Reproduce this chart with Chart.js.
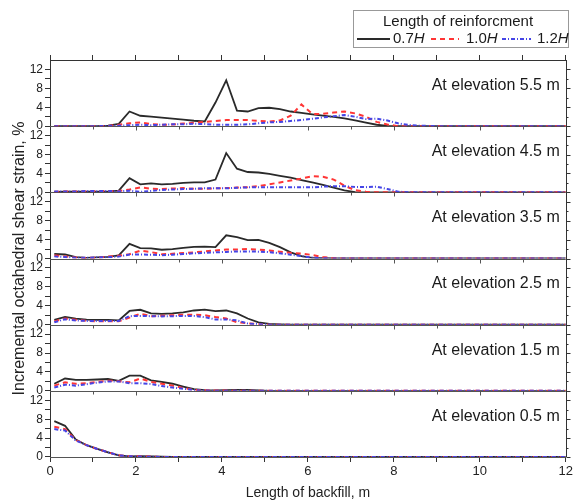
<!DOCTYPE html>
<html>
<head>
<meta charset="utf-8">
<script src="https://cdn.jsdelivr.net/npm/chart.js@4.4.1/dist/chart.umd.min.js"></script>
<style>
  html, body { margin: 0; padding: 0; background: #fff; }
</style>
</head>
<body>
<canvas id="strainChart" width="575" height="500"></canvas>
<script>
// distance along the backfill, m
var xs = [0.1, 0.35, 0.6, 0.85, 1.1, 1.35, 1.6, 1.85, 2.1, 2.35,
          2.6, 2.85, 3.1, 3.35, 3.6, 3.85, 4.1, 4.35, 4.6, 4.85,
          5.1, 5.35, 5.6, 5.85, 6.1, 6.35, 6.6, 6.85, 7.1, 7.35,
          7.6, 7.85, 8.1, 8.35, 8.6, 9, 10, 11, 12];

var elevations = ['5.5', '4.5', '3.5', '2.5', '1.5', '0.5'];
var lengthNames = ['0.7', '1.0', '1.2'];
var yTicks = [0, 4, 8, 12];

// incremental octahedral shear strain (%), one array per elevation and reinforcement length
var e55_07 = [0, 0, 0, 0, 0, 0.1, 0.5, 3.1, 2.2, 2.0, 1.8, 1.6, 1.4, 1.15, 1.0, 5.0, 9.7, 3.3, 3.1, 3.8,
              3.9, 3.6, 3.1, 2.8, 2.5, 2.25, 1.95, 1.65, 1.25, 0.75, 0.3, 0.05, 0, 0, 0, 0, 0, 0, 0];
var e55_10 = [0, 0, 0, 0, 0, 0.05, 0.3, 0.6, 0.8, 0.45, 0.3, 0.35, 0.55, 0.7, 0.9, 1.1, 1.3, 1.3, 1.3, 1.1,
              1.0, 1.2, 2.2, 4.6, 2.6, 2.6, 2.9, 3.1, 2.7, 2.0, 0.9, 0.35, 0, 0, 0, 0, 0, 0, 0];
var e55_12 = [0, 0, 0, 0, 0, 0.05, 0.1, 0.2, 0.3, 0.2, 0.3, 0.4, 0.4, 0.5, 0.45, 0.3, 0.3, 0.3, 0.4, 0.6,
              0.8, 0.9, 1.1, 1.3, 1.55, 1.85, 2.1, 2.35, 2.0, 1.5, 1.6, 1.2, 0.6, 0.25, 0.1, 0, 0, 0, 0];

var e45_07 = [0.1, 0.15, 0.15, 0.15, 0.15, 0.2, 0.35, 3.0, 1.7, 1.9, 1.7, 1.8, 2.0, 2.1, 2.1, 2.7, 8.3, 5.0, 4.3, 4.2,
              3.9, 3.5, 3.1, 2.6, 2.1, 1.6, 1.0, 0.4, 0.05, 0, 0, 0, 0, 0, 0, 0, 0, 0, 0];
var e45_10 = [0.1, 0.2, 0.2, 0.2, 0.25, 0.3, 0.3, 0.6, 1.05, 0.75, 0.7, 0.8, 0.9, 0.75, 0.75, 0.85, 0.9, 1.0, 1.1, 1.3,
              1.7, 2.1, 2.5, 2.9, 3.4, 3.3, 2.7, 1.4, 0.45, 0.15, 0, 0, 0, 0, 0, 0, 0, 0, 0];
var e45_12 = [0.15, 0.2, 0.2, 0.3, 0.25, 0.3, 0.2, 0.35, 0.1, 0.3, 0.5, 0.6, 0.7, 0.75, 0.85, 0.85, 0.85, 0.95, 1.05, 1.1,
              1.1, 1.1, 1.05, 1.05, 1.05, 1.2, 1.3, 1.3, 1.15, 1.1, 1.2, 0.7, 0.15, 0, 0, 0, 0, 0, 0];

var e35_07 = [1.0, 0.85, 0.3, 0.15, 0.25, 0.35, 0.65, 3.1, 2.2, 2.15, 1.85, 2.0, 2.25, 2.45, 2.5, 2.4, 4.9, 4.5, 3.9, 3.95,
              3.3, 2.4, 1.3, 0.5, 0.15, 0.05, 0, 0, 0, 0, 0, 0, 0, 0, 0, 0, 0, 0, 0];
var e35_10 = [0.65, 0.45, 0.2, 0.1, 0.2, 0.4, 0.6, 0.9, 1.65, 1.35, 0.9, 1.0, 1.15, 1.3, 1.5, 1.7, 1.9, 1.9, 2.0, 1.9,
              1.7, 1.45, 1.2, 1.05, 0.75, 0.3, 0.05, 0, 0, 0, 0, 0, 0, 0, 0, 0, 0, 0, 0];
var e35_12 = [0.45, 0.3, 0.15, 0.15, 0.25, 0.3, 0.4, 0.85, 0.85, 0.8, 0.7, 0.8, 0.95, 1.1, 1.2, 1.3, 1.4, 1.5, 1.5, 1.45,
              1.35, 1.1, 0.8, 0.5, 0.2, 0.05, 0, 0, 0, 0, 0, 0, 0, 0, 0, 0, 0, 0, 0];

var e25_07 = [1.0, 1.65, 1.3, 1.05, 1.0, 1.0, 0.9, 2.9, 3.15, 2.4, 2.3, 2.4, 2.6, 3.0, 3.2, 2.85, 3.0, 2.4, 1.3, 0.5,
              0.15, 0.05, 0, 0, 0, 0, 0, 0, 0, 0, 0, 0, 0, 0, 0, 0, 0, 0, 0];
var e25_10 = [0.7, 1.3, 1.05, 0.8, 0.7, 0.7, 0.7, 1.5, 2.3, 1.8, 1.9, 2.0, 2.1, 2.1, 2.0, 1.6, 1.3, 0.5, 0.3, 0.1,
              0, 0, 0, 0, 0, 0, 0, 0, 0, 0, 0, 0, 0, 0, 0, 0, 0, 0, 0];
var e25_12 = [0.5, 1.15, 0.9, 0.8, 0.75, 0.8, 0.8, 1.8, 1.85, 1.8, 1.75, 1.8, 1.85, 1.85, 1.6, 1.1, 1.1, 0.9, 0.25, 0.1,
              0, 0, 0, 0, 0, 0, 0, 0, 0, 0, 0, 0, 0, 0, 0, 0, 0, 0, 0];

var e15_07 = [1.5, 2.6, 2.3, 2.3, 2.4, 2.5, 2.1, 3.2, 3.2, 2.2, 1.9, 1.5, 0.9, 0.35, 0.15, 0.1, 0.15, 0.2, 0.2, 0.1,
              0, 0, 0, 0, 0, 0, 0, 0, 0, 0, 0, 0, 0, 0, 0, 0, 0, 0, 0];
var e15_10 = [1.1, 1.8, 1.5, 1.6, 1.9, 2.15, 2.05, 1.8, 2.6, 1.9, 1.5, 1.1, 0.6, 0.2, 0.1, 0.05, 0.05, 0, 0, 0,
              0, 0, 0, 0, 0, 0, 0, 0, 0, 0, 0, 0, 0, 0, 0, 0, 0, 0, 0];
var e15_12 = [0.7, 1.3, 1.1, 1.4, 1.75, 2.0, 2.0, 1.6, 1.6, 1.45, 1.0, 0.7, 0.45, 0.15, 0.05, 0, 0, 0, 0, 0,
              0, 0, 0, 0, 0, 0, 0, 0, 0, 0, 0, 0, 0, 0, 0, 0, 0, 0, 0];

var e05_07 = [7.6, 6.6, 3.7, 2.5, 1.7, 1.0, 0.35, 0.15, 0.2, 0.15, 0.05, 0, 0, 0, 0, 0, 0, 0, 0, 0,
              0, 0, 0, 0, 0, 0, 0, 0, 0, 0, 0, 0, 0, 0, 0, 0, 0, 0, 0];
var e05_10 = [6.4, 5.9, 3.6, 2.5, 1.7, 1.0, 0.35, 0.15, 0.15, 0.1, 0, 0, 0, 0, 0, 0, 0, 0, 0, 0,
              0, 0, 0, 0, 0, 0, 0, 0, 0, 0, 0, 0, 0, 0, 0, 0, 0, 0, 0];
var e05_12 = [5.9, 5.6, 3.5, 2.5, 1.7, 1.0, 0.35, 0.15, 0.1, 0.05, 0, 0, 0, 0, 0, 0, 0, 0, 0, 0,
              0, 0, 0, 0, 0, 0, 0, 0, 0, 0, 0, 0, 0, 0, 0, 0, 0, 0, 0];

var panels = [
  [e55_07, e55_10, e55_12],
  [e45_07, e45_10, e45_12],
  [e35_07, e35_10, e35_12],
  [e25_07, e25_10, e25_12],
  [e15_07, e15_10, e15_12],
  [e05_07, e05_10, e05_12]
];

// line look for each reinforcement length
var lineStyles = [
  { color: '#2a2a2a', width: 1.8, dash: [], order: 2 },
  { color: '#ff3535', width: 2, dash: [5, 4], order: 1 },
  { color: '#4545e6', width: 2, dash: [4, 2, 1, 2], order: 0 }
];

var FONT = 'Liberation Sans, Arial, sans-serif';
Chart.defaults.font.family = FONT;
Chart.defaults.color = '#222';

var datasets = [];
panels.forEach(function (series, p) {
  series.forEach(function (vals, s) {
    var st = lineStyles[s];
    datasets.push({
      label: lengthNames[s] + 'H, ' + elevations[p] + ' m',
      data: xs.map(function (x, i) { return { x: x, y: vals[i] }; }),
      yAxisID: 'y' + p,
      borderColor: st.color,
      borderWidth: st.width,
      borderDash: st.dash,
      pointRadius: 0,
      tension: 0,
      fill: false,
      order: st.order
    });
  });
});

var scales = {
  x: {
    type: 'linear', position: 'bottom', min: 0, max: 12,
    ticks: {
      stepSize: 1, autoSkip: false, maxRotation: 0, padding: 2,
      font: { size: 13 },
      callback: function (v) { return v % 2 === 0 ? v : ''; }
    },
    grid: { drawOnChartArea: false, tickLength: 5, color: '#333' },
    border: { color: '#333' },
    title: { display: true, text: 'Length of backfill, m', font: { size: 14 }, padding: { top: 4, bottom: -2 } },
    afterFit: function (s) { s.height = 43; }
  },
  x2: {
    type: 'linear', axis: 'x', position: 'top', min: 0, max: 12,
    ticks: { display: false, stepSize: 1 },
    grid: { drawOnChartArea: false, tickLength: 5, color: '#333' },
    border: { color: '#333' },
    afterFit: function (s) { s.height = 60; }
  },
  yTitle: {
    type: 'linear', axis: 'y', position: 'left', weight: 5, min: 0, max: 1,
    ticks: { display: false },
    grid: { display: false },
    border: { display: false },
    title: {
      display: true, text: 'Incremental octahedral shear strain, %',
      font: { size: 16 }, padding: { top: 10, bottom: 0 }
    },
    afterFit: function (s) { s.width = 27; }
  }
};

// stacked panels are laid out bottom-up, so the lowest elevation goes in first
for (var p = elevations.length - 1; p >= 0; p--) {
  scales['y' + p] = {
    type: 'linear', position: 'left', stack: 'panels', stackWeight: 1,
    min: 0, max: 14,
    afterBuildTicks: function (s) {
      s.ticks = s.ticks.filter(function (t) { return t.value <= 12; });
    },
    ticks: {
      stepSize: 2, autoSkip: false, padding: 2,
      font: { size: 12 },
      callback: function (v) { return yTicks.indexOf(v) >= 0 ? v : ''; }
    },
    grid: { drawOnChartArea: false, tickLength: 5, color: '#333' },
    border: { color: '#333' },
    afterFit: function (s) { s.width = 23; }
  };
}

// panel dividers, right frame, elevation captions and the legend box
var panelDecor = {
  id: 'panelDecor',
  beforeDatasetsDraw: function (chart) {
    var ctx = chart.ctx, a = chart.chartArea;
    ctx.save();
    ctx.strokeStyle = '#555';
    ctx.lineWidth = 1;
    elevations.forEach(function (el, p) {
      var y0 = Math.round(chart.scales['y' + p].getPixelForValue(0)) + 0.5;
      ctx.beginPath();
      ctx.moveTo(a.left, y0);
      ctx.lineTo(a.right, y0);
      ctx.stroke();
      if (p === elevations.length - 1) return;
      var xScale = chart.scales.x;
      for (var k = 1; k < 12; k++) {
        var px = Math.round(xScale.getPixelForValue(k)) + 0.5;
        ctx.beginPath();
        ctx.moveTo(px, y0);
        ctx.lineTo(px, y0 + (k % 2 === 0 ? 4 : 3));
        ctx.stroke();
      }
    });
    ctx.restore();
  },
  afterDraw: function (chart) {
    var ctx = chart.ctx, a = chart.chartArea;
    ctx.save();
    // right edge of the frame with outward ticks
    ctx.strokeStyle = '#333';
    ctx.lineWidth = 1;
    var rx = Math.round(a.right) + 0.5;
    ctx.beginPath();
    ctx.moveTo(rx, a.top);
    ctx.lineTo(rx, a.bottom);
    ctx.stroke();
    elevations.forEach(function (el, p) {
      var s = chart.scales['y' + p];
      for (var v = 0; v <= 12; v += 2) {
        var py = Math.round(s.getPixelForValue(v)) + 0.5;
        ctx.beginPath();
        ctx.moveTo(rx, py);
        ctx.lineTo(rx + (v % 4 === 0 ? 4 : 2), py);
        ctx.stroke();
      }
      ctx.fillStyle = '#1a1a1a';
      ctx.font = '16px ' + FONT;
      ctx.textAlign = 'right';
      ctx.textBaseline = 'middle';
      ctx.fillText('At elevation ' + el + ' m', a.right - 6, s.getPixelForValue(12) + 16);
    });

    // legend
    ctx.fillStyle = '#fff';
    ctx.fillRect(353, 10, 216, 37);
    ctx.strokeStyle = '#999';
    ctx.strokeRect(353.5, 10.5, 215, 37);
    ctx.fillStyle = '#1a1a1a';
    ctx.font = '15px ' + FONT;
    ctx.textAlign = 'center';
    ctx.textBaseline = 'middle';
    ctx.fillText('Length of reinforcment', 458, 22);

    var items = [
      { x0: 357, x1: 390, tx: 393 },
      { x0: 431, x1: 459, tx: 466 },
      { x0: 502, x1: 531, tx: 537 }
    ];
    items.forEach(function (it, s) {
      var st = lineStyles[s];
      ctx.strokeStyle = st.color;
      ctx.lineWidth = st.width;
      ctx.setLineDash(st.dash);
      ctx.beginPath();
      ctx.moveTo(it.x0, 39);
      ctx.lineTo(it.x1, 39);
      ctx.stroke();
      ctx.setLineDash([]);
      ctx.fillStyle = '#1a1a1a';
      ctx.textAlign = 'left';
      ctx.font = '15px ' + FONT;
      ctx.fillText(lengthNames[s], it.tx, 39);
      var w = ctx.measureText(lengthNames[s]).width;
      ctx.font = 'italic 15px ' + FONT;
      ctx.fillText('H', it.tx + w, 39);
    });
    ctx.restore();
  }
};

new Chart(document.getElementById('strainChart').getContext('2d'), {
  type: 'line',
  data: { datasets: datasets },
  options: {
    responsive: false,
    animation: false,
    layout: { padding: { top: 0, right: 7, bottom: 0, left: 0 } },
    plugins: {
      legend: { display: false },
      tooltip: { enabled: false }
    },
    scales: scales
  },
  plugins: [panelDecor]
});
</script>
</body>
</html>
